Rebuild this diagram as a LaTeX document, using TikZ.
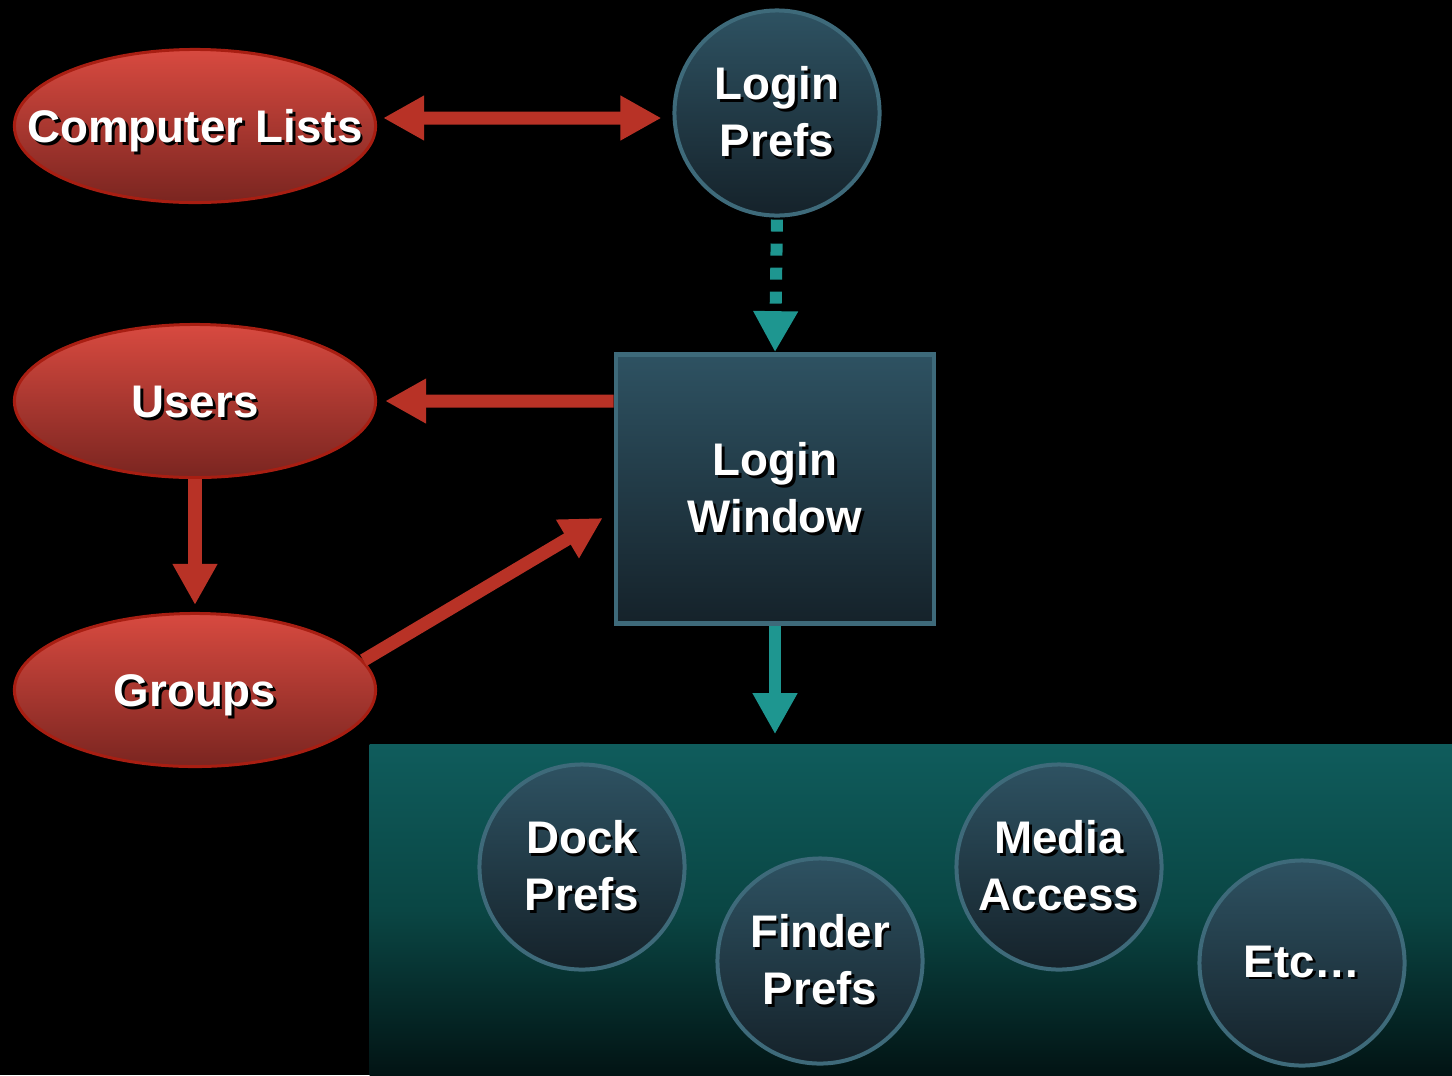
\documentclass[tikz,border=0pt]{standalone}
\usepackage{fontspec}
\setmainfont{Liberation Sans}
\usetikzlibrary{shapes.geometric, arrows.meta}
\definecolor{elltop}{HTML}{D84A40}
\definecolor{ellbot}{HTML}{7A2520}
\definecolor{ellline}{HTML}{A81E12}
\definecolor{blutop}{HTML}{2E5262}
\definecolor{blubot}{HTML}{15222A}
\definecolor{bluline}{HTML}{3E6A7A}
\definecolor{arrowred}{HTML}{B83226}
\definecolor{arrowteal}{HTML}{1E9690}
\definecolor{paneltop}{HTML}{0F5C5C}
\definecolor{panelmid}{HTML}{0A4644}
\definecolor{panelbot}{HTML}{021414}
\newcommand\shad[1]{\leavevmode\rlap{\hspace{0.8pt}\raisebox{-0.8pt}{\color{black}#1}}#1}
\begin{document}
\begin{tikzpicture}[x=0.01cm, y=-0.01cm, Big/.tip={Triangle[length=0.41cm, width=0.42cm]},
	label font/.style={text=white, align=center, font=\fontsize{13}{16.3}\selectfont\bfseries},
	red style/.style={ellipse, draw=ellline, line width=0.03cm, top color=elltop, bottom color=ellbot, inner sep=0pt, text height=9.4pt, text depth=0pt, minimum width=3.61cm, minimum height=1.53cm, label font},
	blue style/.style={circle, draw=bluline, line width=0.04cm, top color=blutop, bottom color=blubot, inner sep=0pt, minimum size=2.05cm, label font},
	box style/.style={rectangle, draw=bluline, line width=0.045cm, top color=blutop, bottom color=blubot, minimum width=3.18cm, minimum height=2.69cm, label font},
	red arrow/.style={draw=arrowred, line width=0.13cm, -Big},
	teal arrow/.style={draw=arrowteal, line width=0.12cm, -Big}]
	\useasboundingbox[fill=black] (0,0) rectangle (1452,1075);
	\node[rectangle, inner sep=0pt, minimum width=10.82cm, minimum height=3.3cm, top color=paneltop, bottom color=panelbot, middle color=panelmid] (P) at (911,910) {};
	\node[red style] (CL) at (195,126) {\makebox[0pt]{\shad{Computer Lists}}};
	\node[red style] (U) at (195,401) {\makebox[0pt]{\shad{Users}}};
	\node[red style] (G) at (195,690) {\makebox[0pt]{\shad{Groups}}};
	\node[blue style] (LP) at (777,113) {\shad{Login}\\\shad{Prefs}};
	\node[box style] (LW) at (775,489) {\shad{Login}\\\shad{Window}};
	\node[blue style] (D) at (582,867) {\shad{Dock}\\\shad{Prefs}};
	\node[blue style] (F) at (820,961) {\shad{Finder}\\\shad{Prefs}};
	\node[blue style] (M) at (1059,867) {\shad{Media}\\\shad{Access}};
	\node[blue style] (E) at (1302,963) {\shad{Etc\dots}};
	\draw[red arrow, Big-Big] ([xshift=0.06cm, yshift=0.08cm]CL.east) -- ([xshift=-0.11cm, yshift=-0.05cm]LP.west);
	\draw[teal arrow, dash pattern=on 0.12cm off 0.12cm, shorten <=0.02cm] (LP.south) -- (LW.north);
	\draw[red arrow] ([yshift=-0.49cm]LW.north west) -- ([xshift=0.08cm]U.east);
	\draw[red arrow, shorten >=0.07cm] (U.south) -- (G.north);
	\draw[red arrow] (G.10) -- ([xshift=-0.11cm, yshift=-0.29cm]LW.west);
	\draw[teal arrow, shorten >=0.1cm] (LW.south) -- (LW.south |- P.north);
\end{tikzpicture}
\end{document}
